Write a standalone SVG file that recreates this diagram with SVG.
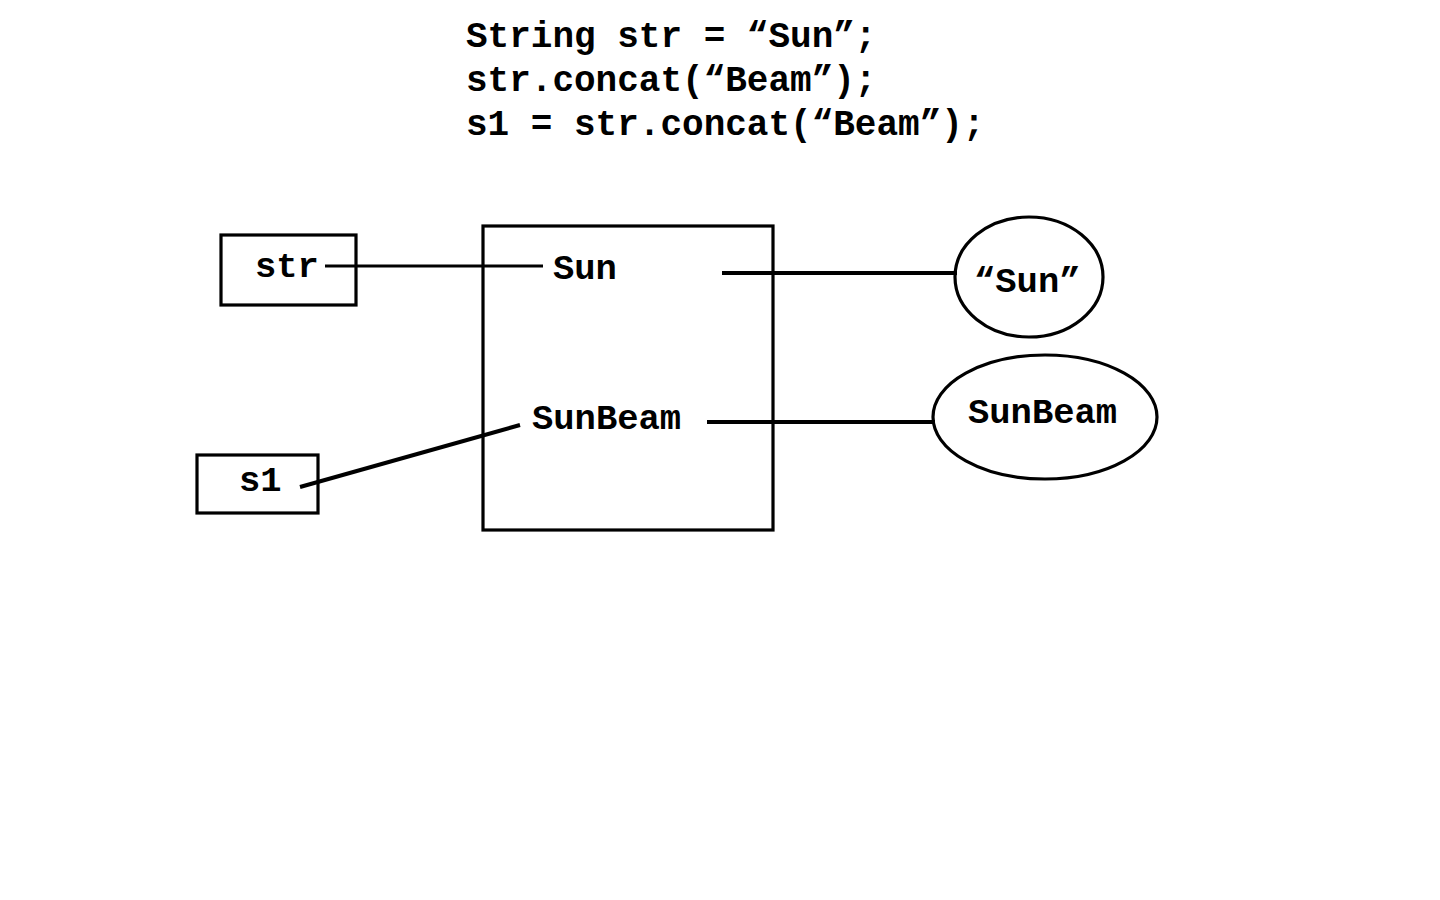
<svg xmlns="http://www.w3.org/2000/svg" width="1440" height="900" viewBox="0 0 1440 900">
<style>
text{font-family:"Liberation Mono","Courier New",monospace;font-weight:bold;fill:#000}
.code{font-size:36px}
.lbl{font-size:35.5px}
.shape{fill:none;stroke:#000;stroke-width:3.2}
.conn{fill:none;stroke:#000;stroke-width:4}
</style>
<rect width="1440" height="900" fill="#fff"/>
<g id="code">
<text class="code" x="466" y="47">String str = “Sun”;</text>
<text class="code" x="466" y="91">str.concat(“Beam”);</text>
<text class="code" x="466" y="135">s1 = str.concat(“Beam”);</text>
</g>
<g id="heap">
<rect class="shape" x="483" y="226" width="290" height="304"/>
<text class="lbl" x="553" y="279">Sun</text>
<text class="lbl" x="532" y="429">SunBeam</text>
</g>
<g id="str">
<rect class="shape" x="221" y="235" width="135" height="70"/>
<text class="lbl" x="255" y="277">str</text>
</g>
<g id="s1">
<rect class="shape" x="197" y="455" width="121" height="58"/>
<text class="lbl" x="239" y="491">s1</text>
</g>
<g id="lit-sun">
<ellipse class="shape" cx="1029" cy="277" rx="74" ry="60"/>
<text class="lbl" x="974" y="292">“Sun”</text>
</g>
<g id="lit-sunbeam">
<ellipse class="shape" cx="1045" cy="417" rx="112" ry="62"/>
<text class="lbl" x="968" y="423">SunBeam</text>
</g>
<g id="connectors">
<line class="shape" x1="325" y1="266" x2="543" y2="266"/>
<line class="conn" x1="722" y1="273" x2="957" y2="273"/>
<line class="conn" x1="300" y1="487" x2="520" y2="425"/>
<line class="conn" x1="707" y1="422" x2="935" y2="422"/>
</g>
</svg>
